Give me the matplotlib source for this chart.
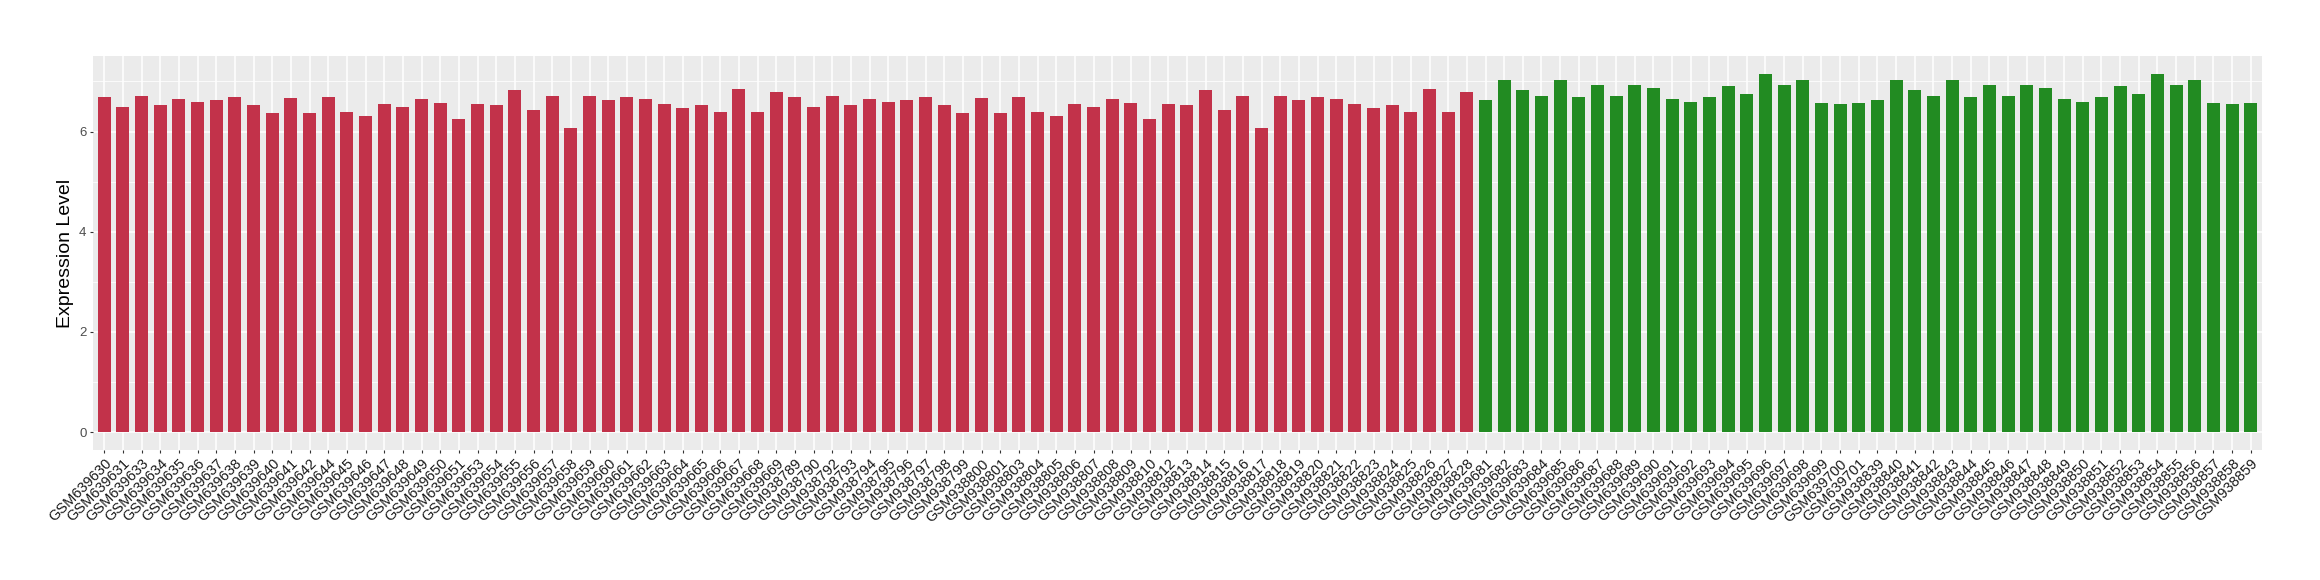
import numpy as np
import matplotlib
matplotlib.use('Agg')
import matplotlib.pyplot as plt

plt.rcParams['font.family'] = ['Liberation Sans', 'DejaVu Sans']

# 样本名称
red_a = ['GSM6396%02d' % i for i in [30, 31, 33, 34, 35, 36, 37, 38, 39, 40, 41, 42, 44, 45, 46, 47, 48, 49, 50,
                                     51, 53, 54, 55, 56, 57, 58, 59, 60, 61, 62, 63, 64, 65, 66, 67, 68, 69]]
red_b = ['GSM938%03d' % i for i in [789, 790, 792, 793, 794, 795, 796, 797, 798, 799, 800, 801, 803, 804, 805, 806,
                                    807, 808, 809, 810, 812, 813, 814, 815, 816, 817, 818, 819, 820, 821, 822, 823,
                                    824, 825, 826, 827, 828]]
green_a = ['GSM639%03d' % i for i in range(681, 702)]
green_b = ['GSM938%03d' % i for i in range(839, 860)]

# 表达量
red_a_vals = [6.69, 6.49, 6.71, 6.53, 6.65, 6.59, 6.63, 6.69, 6.53, 6.37, 6.67, 6.37, 6.69, 6.39, 6.31, 6.55,
              6.49, 6.65, 6.57, 6.25, 6.55, 6.53, 6.83, 6.43, 6.71, 6.07, 6.71, 6.63, 6.69, 6.65, 6.55, 6.47,
              6.53, 6.39, 6.85, 6.39, 6.79]
red_b_vals = [6.69, 6.49, 6.71, 6.53, 6.65, 6.59, 6.63, 6.69, 6.53, 6.37, 6.67, 6.37, 6.69, 6.39, 6.31, 6.55,
              6.49, 6.65, 6.57, 6.25, 6.55, 6.53, 6.83, 6.43, 6.71, 6.07, 6.71, 6.63, 6.69, 6.65, 6.55, 6.47,
              6.53, 6.39, 6.85, 6.39, 6.79]
green_a_vals = [6.63, 7.03, 6.83, 6.71, 7.03, 6.69, 6.93, 6.71, 6.93, 6.87, 6.65, 6.59, 6.69, 6.91, 6.75,
                7.15, 6.93, 7.03, 6.57, 6.55, 6.57]
green_b_vals = [6.63, 7.03, 6.83, 6.71, 7.03, 6.69, 6.93, 6.71, 6.93, 6.87, 6.65, 6.59, 6.69, 6.91, 6.75,
                7.15, 6.93, 7.03, 6.57, 6.55, 6.57]

samples = red_a + red_b + green_a + green_b
values = red_a_vals + red_b_vals + green_a_vals + green_b_vals
colors = ['#C2324A'] * (len(red_a) + len(red_b)) + ['#228B22'] * (len(green_a) + len(green_b))

fig = plt.figure(figsize=(23.2, 5.8), dpi=100)
ax = fig.add_axes([0.0401, 0.2241, 0.9349, 0.6793])

x = np.arange(len(samples))
ax.bar(x, values, width=0.7, color=colors, zorder=3)

# ggplot 风格背景
ax.set_facecolor('#EBEBEB')
for s in ax.spines.values():
    s.set_visible(False)
ax.set_xlim(-0.6, len(samples) - 0.4)
ymax = max(values) * 1.05
ax.set_ylim(-ymax / 1.05 * 0.05, ymax)
ax.set_yticks([0, 2, 4, 6])
ax.set_yticks([1, 3, 5, 7], minor=True)
ax.set_xticks(x)
ax.set_xticklabels(samples, rotation=45, ha='right', va='top', rotation_mode='anchor',
                   fontsize=10.5, color='#1A1A1A')
ax.tick_params(axis='y', labelsize=9.5, labelcolor='#4D4D4D', length=2.5, color='#333333', width=0.8, pad=2.2)
ax.tick_params(axis='x', length=2.5, color='#333333', width=0.8, pad=2.2)
ax.tick_params(axis='y', which='minor', length=0)
ax.grid(True, which='major', color='white', linewidth=1.1, zorder=0)
ax.grid(True, which='minor', axis='y', color='white', linewidth=0.55, zorder=0)
ax.set_axisbelow(True)

ax.set_ylabel('Expression Level', fontsize=14, color='black')
ax.yaxis.set_label_coords(-0.0088, 0.5)

plt.savefig('out.png', dpi=100)
